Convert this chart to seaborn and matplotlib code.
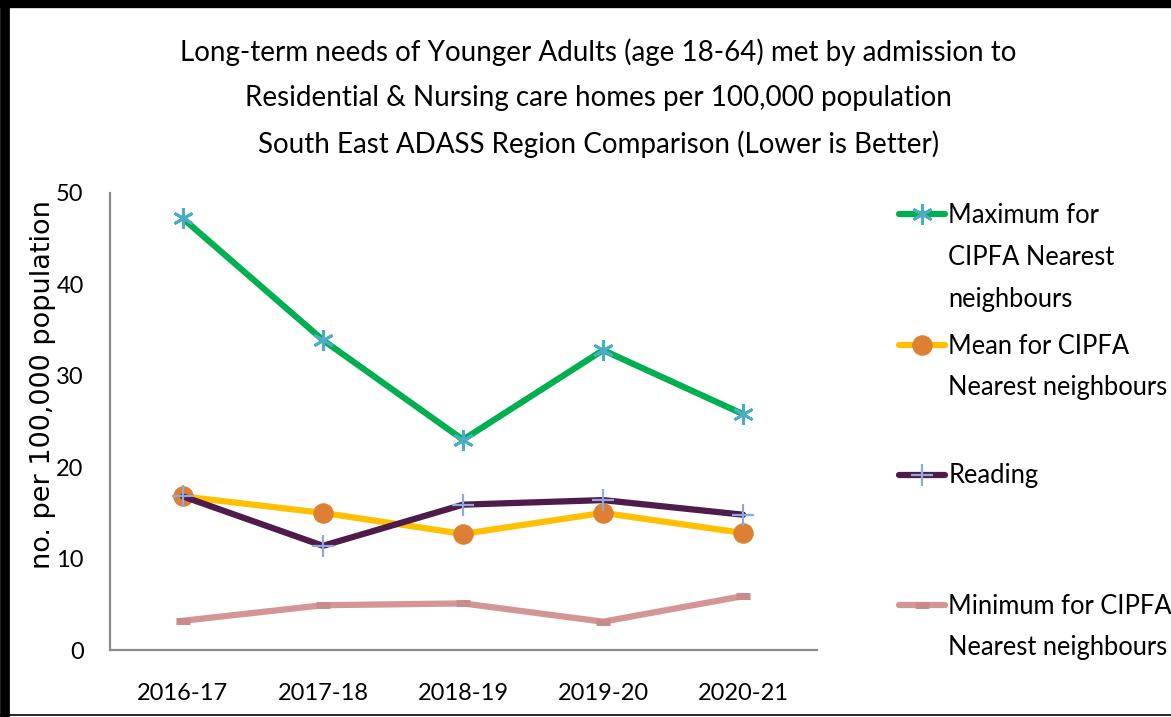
import pandas as pd
import seaborn as sns
import matplotlib.pyplot as plt
from matplotlib.lines import Line2D

# Данные графика
years = ['2016-17', '2017-18', '2018-19', '2019-20', '2020-21']
max_cipfa = [47.2, 33.9, 23.0, 32.8, 25.8]
mean_cipfa = [16.8, 15.0, 12.7, 15.0, 12.8]
reading = [16.8, 11.4, 15.9, 16.4, 14.8]
min_cipfa = [3.2, 4.9, 5.1, 3.1, 5.9]

labels = ['Maximum for\nCIPFA Nearest\nneighbours',
          'Mean for CIPFA\nNearest neighbours',
          'Reading',
          'Minimum for CIPFA\nNearest neighbours']
title = ('Long-term needs of Younger Adults (age 18-64) met by admission to\n'
         'Residential & Nursing care homes per 100,000 population\n'
         'South East ADASS Region Comparison (Lower is Better)')

sns.set_style('white')
narrow = ['Lato', 'DejaVu Sans']
plt.rcParams['font.family'] = narrow
for k in ['text.color', 'axes.labelcolor', 'xtick.color', 'ytick.color']:
    plt.rcParams[k] = 'black'

W, H = 1171, 717
fig = plt.figure(figsize=(W / 100, H / 100), dpi=100)
ax = fig.add_axes([0.094, 0.0934, 0.604, 0.6376])

series = [
    (max_cipfa, dict(color='#00B050', marker=(6, 2, 0), markersize=15,
                     markeredgecolor='#4BACC6', markeredgewidth=2)),
    (mean_cipfa, dict(color='#FFC000', marker='o', markersize=14,
                      markerfacecolor='#DD8033', markeredgecolor='#DD8033')),
    (reading, dict(color='#4E1B4B', marker='+', markersize=16,
                   markeredgecolor='#8EA9DB', markeredgewidth=1.6)),
    (min_cipfa, dict(color='#D39595', marker='_', markersize=10,
                     markeredgecolor='#C98A8A', markeredgewidth=5)),
]

for (vals, style), lab in zip(series, labels):
    df = pd.DataFrame({'year': years, 'value': vals})
    sns.lineplot(data=df, x='year', y='value', ax=ax, linewidth=4.5,
                 label=lab, **style)

ax.set_ylim(0, 50)
ax.set_xlim(-0.52, 4.53)
ax.set_yticks([0, 10, 20, 30, 40, 50])
ax.tick_params(axis='both', length=0, labelsize=17)
ax.tick_params(axis='y', pad=19)
ax.tick_params(axis='x', pad=24)
ax.set_xlabel('')
ax.set_ylabel('no. per 100,000 population', family='DejaVu Sans', fontsize=19.5)
ax.yaxis.set_label_coords(-0.077, 0.58)
for s in ['top', 'right']:
    ax.spines[s].set_visible(False)
for s in ['left', 'bottom']:
    ax.spines[s].set_color('#8C8C8C')
    ax.spines[s].set_linewidth(1.6)

# Легенда: маркер на уровне первой строки, остальные строки - текстом ниже
handles, _ = ax.get_legend_handles_labels()
ax.get_legend().remove()
ys = [215, 346, 476, 606]
legs = []
for h, lab, y in zip(handles, labels, ys):
    first = lab.split('\n')[0]
    leg = fig.legend([h], [first], loc='center left',
                     bbox_to_anchor=(0.768, 1 - y / H), frameon=False,
                     borderpad=0, borderaxespad=0, handlelength=1.8,
                     handletextpad=0.12, prop={'family': narrow, 'size': 18.4})
    legs.append(leg)

fig.canvas.draw()
for leg, lab in zip(legs, labels):
    t = leg.get_texts()[0]
    bx, by = t.get_transform().transform((0, 0))
    for i, line in enumerate(lab.split('\n')[1:], start=1):
        fig.text(bx / W, (by - 42 * i) / H, line, ha='left', va='baseline',
                 fontsize=18.4)

fig.text(0.511, 1 - 38 / H, title, ha='center', va='top', fontsize=20,
         linespacing=1.9)

# Рамка рисунка
fig.add_artist(Line2D([0, 1], [1 - 4 / H, 1 - 4 / H], transform=fig.transFigure,
                      color='black', linewidth=6))
fig.add_artist(Line2D([5 / W, 5 / W], [0, 1], transform=fig.transFigure,
                      color='black', linewidth=7))
fig.add_artist(Line2D([0, 1], [2 / H, 2 / H], transform=fig.transFigure,
                      color='black', linewidth=1.2))

fig.savefig('out.png', dpi=100)
